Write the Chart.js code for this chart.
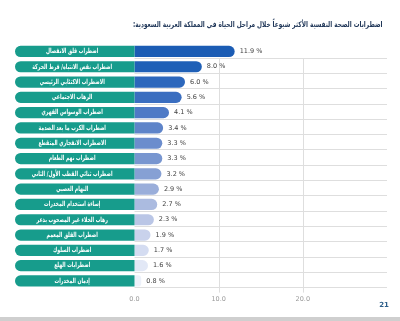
<!DOCTYPE html>
<html lang="ar">
<head>
<meta charset="utf-8">
<script src="https://cdn.jsdelivr.net/npm/chart.js@4.4.1/dist/chart.umd.min.js"></script>
<style>
  html, body { margin: 0; padding: 0; background: #ffffff; }
  #wrap { position: relative; width: 400px; height: 321px; overflow: hidden; }
  #title {
    position: absolute; right: 17px; top: 20px;
    font: bold 8px "DejaVu Sans", sans-serif; color: #1e3557;
    direction: rtl; white-space: nowrap;
    transform: scaleX(0.72); transform-origin: right center;
  }
  #page {
    position: absolute; right: 11px; top: 301px;
    font: bold 7px "DejaVu Sans", sans-serif; color: #2d5f8a;
  }
  #foot { position: absolute; left: 0; top: 317px; width: 400px; height: 4px; background: #cfcfcf; }
  canvas { position: absolute; left: 0; top: 0; }
</style>
</head>
<body>
<div id="wrap">
  <canvas id="chart" width="400" height="321"></canvas>
  <div id="title">اضطرابات الصحة النفسية الأكثر شيوعاً خلال مراحل الحياة في المملكة العربية السعودية:</div>
  <div id="page">21</div>
  <div id="foot"></div>
</div>
<script>
// categories (top to bottom)
var disorders = [
  "اضطراب قلق الانفصال",
  "اضطراب نقص الانتباه/ فرط الحركة",
  "الاضطراب الاكتئابي الرئيسي",
  "الرهاب الاجتماعي",
  "اضطراب الوسواس القهري",
  "اضطراب الكرب ما بعد الصدمة",
  "الاضطراب الانفجاري المتقطع",
  "اضطراب نهم الطعام",
  "اضطراب ثنائي القطب الأول/ الثاني",
  "النهام العصبي",
  "إساءة استخدام المخدرات",
  "رهاب الخلاء غير المصحوب بذعر",
  "اضطراب القلق المعمم",
  "اضطراب السلوك",
  "اضطرابات الهلع",
  "إدمان المخدرات"
];

// prevalence, %
var prevalence = [11.9, 8.0, 6.0, 5.6, 4.1, 3.4, 3.3, 3.3, 3.2, 2.9, 2.7, 2.3, 1.9, 1.7, 1.6, 0.8];

// teal label band on the negative side of the axis
var labelBand = [-14.2, -14.2, -14.2, -14.2, -14.2, -14.2, -14.2, -14.2,
                 -14.2, -14.2, -14.2, -14.2, -14.2, -14.2, -14.2, -14.2];

// x tick labels that are shown
var shownTicks = [0, 10, 20];

var teal = "#179c8c";
var blues = ['#1b5cb4','#1f60b7','#2c67bc','#3a6ec0','#4e7ac6','#5e84c9','#6b8dcd','#7896d0',
             '#86a0d4','#9aaeda','#abbbe0','#bac6e6','#c9d2ec','#d4dcf1','#e2e8f6','#edf1fa'];

// grid lines under the bars
var gridPlugin = {
  id: "grid",
  beforeDatasetsDraw: function(chart){
    var ctx = chart.ctx, x = chart.scales.x, y = chart.scales.y, area = chart.chartArea;
    var step = y.getPixelForValue(1) - y.getPixelForValue(0);
    var x0 = x.getPixelForValue(0);
    ctx.save();
    ctx.strokeStyle = "#dedede";
    ctx.lineWidth = 1;
    var firstLine = null;
    for(var i = 0; i < disorders.length; i++){
      var ly = Math.round(y.getPixelForValue(i) + step / 2 - 1.5) + 0.5;
      if(firstLine == null) firstLine = ly;
      ctx.beginPath();
      ctx.moveTo(x0, ly);
      ctx.lineTo(area.right, ly);
      ctx.stroke();
    }
    shownTicks.forEach(function(t){
      if(t <= 0) return;
      var lx = Math.round(x.getPixelForValue(t)) + 0.5;
      ctx.beginPath();
      ctx.moveTo(lx, firstLine);
      ctx.lineTo(lx, area.bottom + 4);
      ctx.stroke();
    });
    ctx.restore();
  }
};

// labels inside teal band and value labels after bars
var labelPlugin = {
  id: "barLabels",
  afterDatasetsDraw: function(chart){
    var ctx = chart.ctx, x = chart.scales.x;
    var valueMeta = chart.getDatasetMeta(1);
    var mid = x.getPixelForValue(-7.4);
    ctx.save();
    ctx.textBaseline = "middle";
    for(var i = 0; i < disorders.length; i++){
      var bar = valueMeta.data[i];
      ctx.direction = "rtl";
      ctx.textAlign = "center";
      ctx.fillStyle = "#ffffff";
      ctx.font = "bold 7px 'DejaVu Sans'";
      // squeeze the wide DejaVu Arabic glyphs a bit
      var w = ctx.measureText(disorders[i]).width;
      ctx.fillText(disorders[i], mid, bar.y, w * 0.66);
      ctx.direction = "ltr";
      ctx.textAlign = "left";
      ctx.fillStyle = "#3f3f3f";
      ctx.font = "6.5px 'DejaVu Sans'";
      ctx.fillText(prevalence[i].toFixed(1) + " %", bar.x + 5, bar.y);
    }
    ctx.restore();
  }
};

var chart = new Chart(document.getElementById("chart"), {
  type: "bar",
  data: {
    labels: disorders,
    datasets: [{
      data: labelBand,
      backgroundColor: teal,
      borderRadius: 6,
      borderSkipped: "start",
      barPercentage: 0.73,
      categoryPercentage: 1
    }, {
      data: prevalence,
      backgroundColor: blues,
      borderRadius: 6,
      borderSkipped: "start",
      barPercentage: 0.73,
      categoryPercentage: 1
    }]
  },
  options: {
    indexAxis: "y",
    responsive: false,
    animation: false,
    devicePixelRatio: 1,
    layout: { padding: { left: 15, right: 13, top: 43.8, bottom: 11.8 } },
    plugins: {
      legend: { display: false },
      tooltip: { enabled: false }
    },
    scales: {
      x: {
        stacked: true,
        min: -14.2,
        max: 30,
        grid: { display: false, drawTicks: false },
        border: { display: false },
        ticks: {
          stepSize: 10,
          autoSkip: false,
          maxRotation: 0,
          padding: 6.4,
          color: "#9a9a9a",
          font: { family: "DejaVu Sans", size: 6.5 },
          callback: function(v){
            return shownTicks.indexOf(v) >= 0 ? v.toFixed(1) : "";
          }
        }
      },
      y: {
        stacked: true,
        display: false
      }
    }
  },
  plugins: [gridPlugin, labelPlugin]
});
</script>
</body>
</html>
